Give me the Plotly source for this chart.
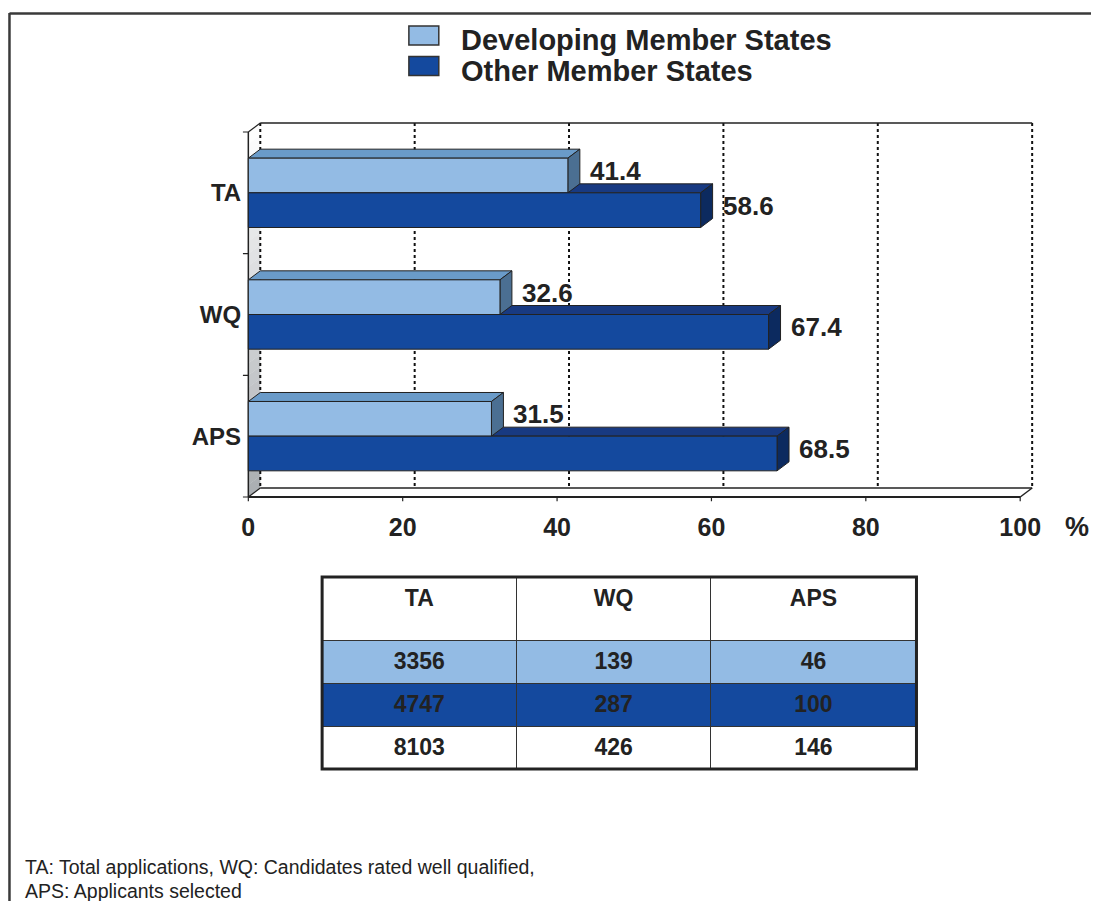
import plotly.graph_objects as go

# ---------------- data ----------------
categories = ["TA", "WQ", "APS"]
developing_pct = [41.4, 32.6, 31.5]
other_pct = [58.6, 67.4, 68.5]
series_names = ["Developing Member States", "Other Member States"]
x_ticks = [0, 20, 40, 60, 80, 100]
table_header = ["TA", "WQ", "APS"]
developing_counts = [3356, 139, 46]
other_counts = [4747, 287, 100]
total_counts = [8103, 426, 146]
footnote_lines = ["TA: Total applications, WQ: Candidates rated well qualified,",
                  "APS: Applicants selected"]

# ---------------- styles / geometry ----------------
FONT = "Liberation Sans, Arial, Helvetica, sans-serif"
LIGHT = "#93BBE4"
LIGHT_TOP = "#6A9BC9"
LIGHT_SIDE = "#4B6F92"
DARK = "#14499E"
DARK_TOP = "#183A82"
DARK_SIDE = "#0C2A5F"
EDGE = "#222222"
TXT = "#222222"

W, H = 1093, 901
X0_PX, X100_PX = 248, 1022
KX = (X100_PX - X0_PX) / 100.0
Y_TOP_PX, Y_BOT_PX = 132, 497
NCAT = len(categories)
KY = (Y_BOT_PX - Y_TOP_PX) / NCAT
DX = 12 / KX          # depth in x data units
DY = -9 / KY          # depth in y data units (reversed axis -> upward)
BAR_W = 0.285

xr = [-0.8, 102.4]
yr = [NCAT - 0.5 + 0.06, -0.5 - 0.12]


def ypx(v):
    return Y_TOP_PX + (v + 0.5) * KY


dom_x = [(X0_PX + xr[0] * KX) / W, (X0_PX + xr[1] * KX) / W]
dom_y = [1 - ypx(yr[0]) / H, 1 - ypx(yr[1]) / H]

ypos = list(range(NCAT))
y_top = -0.5
y_bot = NCAT - 0.5
x_max = x_ticks[-1]

fig = go.Figure()

# front faces of bars
fig.add_trace(go.Bar(orientation="h", y=ypos, x=developing_pct, width=BAR_W, offset=-BAR_W,
                     marker=dict(color=LIGHT, line=dict(color=EDGE, width=1)),
                     name=series_names[0], hoverinfo="skip"))
fig.add_trace(go.Bar(orientation="h", y=ypos, x=other_pct, width=BAR_W, offset=0,
                     marker=dict(color=DARK, line=dict(color=EDGE, width=1)),
                     name=series_names[1], hoverinfo="skip"))

shapes = []


def dline(x0, y0, x1, y1, width=1.5, color=EDGE, dash="solid", layer="below"):
    shapes.append(dict(type="line", xref="x", yref="y", x0=x0, y0=y0, x1=x1, y1=y1,
                       line=dict(color=color, width=width, dash=dash), layer=layer))


def dpath(pts, fill, lw=1, lc=EDGE, layer="below"):
    p = "M " + " L ".join(f"{x},{y}" for x, y in pts) + " Z"
    shapes.append(dict(type="path", xref="x", yref="y", path=p, fillcolor=fill,
                       line=dict(color=lc, width=lw), layer=layer))


# left side wall with gradient
N = 30
c0 = (255, 255, 255)
c1 = (170, 174, 178)
for i in range(N):
    t0, t1 = i / N, (i + 1) / N
    ya = y_top + (y_bot - y_top) * t0
    yb = y_top + (y_bot - y_top) * t1 + 0.002
    t = (t0 + t1) / 2
    col = "rgb(%d,%d,%d)" % tuple(int(c0[k] + (c1[k] - c0[k]) * t) for k in range(3))
    dpath([(0, ya), (DX, ya + DY), (DX, yb + DY), (0, yb)], col, lw=0, lc="rgba(0,0,0,0)")

# back wall grid (dotted)
for v in x_ticks:
    dline(v + DX, y_top + DY, v + DX, y_bot + DY, width=2, dash="dot", color="#111")
# back wall top edge, floor
dline(DX, y_top + DY, x_max + DX, y_top + DY, width=1.5)
dline(0, y_top, DX, y_top + DY, width=1.2)
dline(DX, y_bot + DY, x_max + DX, y_bot + DY, width=1.5)
dline(0, y_bot, DX, y_bot + DY, width=1.2)
dline(x_max, y_bot, x_max + DX, y_bot + DY, width=1.5)
dline(0, y_top, 0, y_bot, width=1.5)
dline(0, y_bot, x_max, y_bot, width=2)

# category boundary ticks
for i in range(NCAT + 1):
    b = y_top + i
    dline(-0.7, b, 0, b, width=1.2)
# x ticks at floor
for v in x_ticks:
    dline(v, y_bot, v, y_bot + 0.035, width=1.2)

# 3D faces of bars
for i in range(NCAT):
    for val, off, top_c, side_c in ((other_pct[i], 0.0, DARK_TOP, DARK_SIDE),
                                    (developing_pct[i], -BAR_W, LIGHT_TOP, LIGHT_SIDE)):
        top = ypos[i] + off
        bot = top + BAR_W
        dpath([(0, top), (DX, top + DY), (val + DX, top + DY), (val, top)], top_c)
        dpath([(val, top), (val + DX, top + DY), (val + DX, bot + DY), (val, bot)], side_c)

annotations = []
# value labels
for i in range(NCAT):
    for val, off in ((developing_pct[i], -BAR_W / 2), (other_pct[i], BAR_W / 2)):
        annotations.append(dict(xref="x", yref="y", x=val + DX, y=ypos[i] + off + DY / 2,
                                text=f"<b>{val:.1f}</b>", showarrow=False, xanchor="left",
                                yanchor="middle", xshift=8,
                                font=dict(family=FONT, size=26, color=TXT)))

# percent sign
annotations.append(dict(xref="paper", yref="paper", x=1078.5 / W, y=1 - 527 / H, text="<b>%</b>",
                        showarrow=False, xanchor="center", yanchor="middle",
                        font=dict(family=FONT, size=27, color=TXT)))


# legend (manual)
def prect(x0, y0, x1, y1, fill, lw=1.5, lc="#333"):
    shapes.append(dict(type="rect", xref="paper", yref="paper", x0=x0 / W, x1=x1 / W,
                       y0=1 - y0 / H, y1=1 - y1 / H, fillcolor=fill,
                       line=dict(color=lc, width=lw), layer="above"))


for k, (name, col) in enumerate(zip(series_names, [LIGHT, DARK])):
    yc = 35.5 + k * 30.5
    prect(409, yc - 9.5, 439, yc + 9.5, col)
    annotations.append(dict(xref="paper", yref="paper", x=459 / W, y=1 - (yc + 5) / H,
                            text=f"<b>{name}</b>", showarrow=False, xanchor="left",
                            yanchor="middle", font=dict(family=FONT, size=29, color=TXT)))

# footnotes
for k, line in enumerate(footnote_lines):
    annotations.append(dict(xref="paper", yref="paper", x=22 / W, y=1 - (867 + 24 * k) / H,
                            text=line, showarrow=False, xanchor="left", yanchor="middle",
                            font=dict(family=FONT, size=19.5, color=TXT)))

# frame
shapes.append(dict(type="line", xref="paper", yref="paper", x0=8.5 / W, x1=8.5 / W,
                   y0=0, y1=1 - 13 / H, line=dict(color="#3a3a3a", width=2.5), layer="above"))
shapes.append(dict(type="line", xref="paper", yref="paper", x0=8.5 / W, x1=1,
                   y0=1 - 13.5 / H, y1=1 - 13.5 / H, line=dict(color="#3a3a3a", width=2.5),
                   layer="above"))

# table
TBL_X0, TBL_X1, TBL_Y0, TBL_Y1 = 322, 918, 577, 769
cell_vals = [[f"<b>{d}</b>", f"<b>{o}</b>", f"<b>{t}</b>"]
             for d, o, t in zip(developing_counts, other_counts, total_counts)]
fig.add_trace(go.Table(
    domain=dict(x=[TBL_X0 / W, TBL_X1 / W], y=[1 - TBL_Y1 / H, 1 - TBL_Y0 / H]),
    columnwidth=[195, 195, 206],
    header=dict(values=[f"<b>{h}</b>" for h in table_header], fill_color="white",
                line=dict(color="#333", width=1), height=63, align="center",
                font=dict(family=FONT, size=23, color=TXT)),
    cells=dict(values=cell_vals, fill_color=[[LIGHT, DARK, "white"]] * 3,
               line=dict(color="#333", width=1), height=43, align="center",
               font=dict(family=FONT, size=23, color=TXT)),
))
prect(TBL_X0, TBL_Y0, TBL_X1, TBL_Y1, "rgba(0,0,0,0)", lw=3, lc="#222")

fig.update_layout(
    width=W, height=H, margin=dict(l=0, r=0, t=0, b=0),
    paper_bgcolor="white", plot_bgcolor="white",
    barmode="overlay", showlegend=False,
    shapes=shapes, annotations=annotations,
    xaxis=dict(range=xr, domain=dom_x, showgrid=False, zeroline=False, showline=False,
               tickvals=x_ticks, ticktext=[f"<b>{v}</b>" for v in x_ticks],
               tickfont=dict(family=FONT, size=25, color=TXT),
               ticks="outside", ticklen=1, tickcolor="rgba(0,0,0,0)", fixedrange=True),
    yaxis=dict(range=yr, domain=dom_y, showgrid=False, zeroline=False, showline=False,
               tickvals=ypos, ticktext=[f"<b>{c}</b>" for c in categories],
               tickfont=dict(family=FONT, size=24, color=TXT), ticks="", fixedrange=True),
    font=dict(family=FONT, color=TXT),
)

fig.write_html("out.html")
